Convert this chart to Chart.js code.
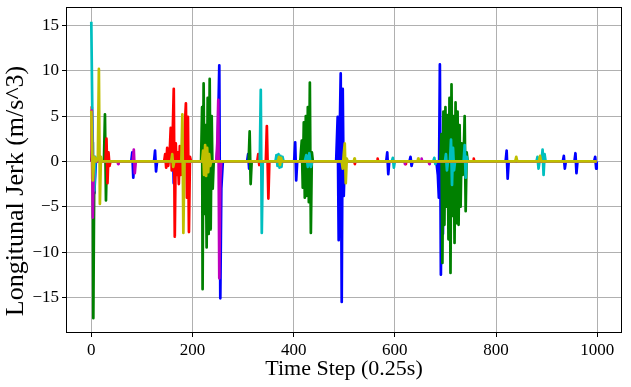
<!DOCTYPE html>
<html>
<head>
<meta charset="utf-8">
<script src="https://cdn.jsdelivr.net/npm/chart.js@4"></script>
<style>
  html, body { margin: 0; padding: 0; background: #fff; }
  #wrap { width: 631px; height: 387px; }
</style>
</head>
<body>
<div id="wrap"><canvas id="jerk" width="631" height="387"></canvas></div>
<script>
// Jerk spikes per run (x = time step, y = m/s^3)
const blueX = [0, 3, 6, 9, 79, 81, 83, 85, 124, 126, 128, 130, 158, 161, 163, 165, 167, 248, 250, 253, 255, 257, 260, 308, 310, 312, 314, 401, 403, 405, 407, 484, 487, 489, 491, 493, 495, 497, 499, 501, 583, 585, 587, 589, 629, 631, 633, 635, 682, 685, 687, 689, 691, 693, 695, 697, 699, 703, 706, 709, 819, 821, 823, 825, 932, 934, 936, 938, 955, 957, 959, 961, 994, 996, 998, 999];
const blueY = [0, 0.5, -3.5, 0, 0, 1.0, -1.8, 0, 0, 1.2, -1.1, 0, 0, 2.8, -2.4, 1.0, 0, 0, 2.0, 10.6, -15.1, -3.0, 0, 0, 0.8, -0.8, 0, 0, 2.1, -2.1, 0, 0, 4.9, -8.7, 3.0, 9.7, -15.5, 8.0, -3.8, 0, 0, 1.0, -1.4, 0, 0, 0.5, -0.5, 0, 0, -1.5, -4.0, 10.7, -12.5, 2.0, -8.0, 1.8, -2.0, 1.0, -1.0, 0, 0, 1.2, -1.9, 0, 0, 0.6, -0.8, 0, 0, 0.9, -1.3, 0, 0, 0.5, -0.8, 0];

const greenX = [0, 1, 3, 4, 6, 25, 27, 29, 31, 33, 217, 219, 220, 222, 224, 226, 228, 230, 232, 234, 236, 238, 240, 242, 311, 313, 315, 317, 413, 416, 418, 420, 422, 424, 426, 428, 430, 432, 434, 436, 438, 690, 692, 694, 696, 698, 700, 702, 704, 706, 708, 710, 712, 714, 716, 718, 720, 722, 724, 726, 728, 730, 732, 734, 736, 738, 740, 742, 744, 999];
const greenY = [0, 0, 2.1, -17.3, 0, 0, 5.2, -4.3, 1.0, 0, 0, 6.0, -14.1, 8.6, -5.8, 4.0, -9.5, 7.0, -8.0, 9.1, -7.5, 5.0, -3.0, 0, 0, 3.3, -2.5, 0, 0, 2.3, -2.9, 4.3, -4.0, 5.0, -3.8, 6.0, -4.5, 8.7, -7.9, 1.0, 0, 0, 3.0, -11.2, 5.5, -7.0, 6.0, -5.0, 5.1, -8.6, 7.0, -12.3, 8.5, -6.0, 5.0, -9.0, 6.5, -6.8, 5.5, -7.0, 4.0, -5.0, 2.0, -1.5, 0.5, 5.0, -5.5, 1.0, 0, 0];

const redX = [0, 1, 2, 4, 28, 30, 32, 34, 36, 38, 144, 146, 148, 150, 152, 155, 157, 159, 161, 163, 165, 167, 169, 171, 173, 175, 177, 179, 183, 185, 187, 189, 191, 193, 195, 197, 328, 330, 332, 334, 345, 347, 350, 352, 520, 521, 522, 565, 566, 567, 620, 621, 622, 755, 756, 757, 999];
const redY = [0, 6.0, -2.0, 0, 0, 2.5, -2.4, 1.0, -0.5, 0, 0, 0.8, -0.7, 1.5, -0.5, 1.0, 3.7, -1.0, 3.2, 8.0, -8.3, 2.0, -1.5, 1.0, -2.5, 1.7, -1.5, 0.5, 0, 4.0, 6.4, -4.0, 4.9, -7.8, 0.5, 0, 0, 0.8, -0.4, 0, 0, 3.9, -4.1, 0, 0, -0.3, 0, 0, 0.3, 0, 0, -0.3, 0, 0, 0.3, 0, 0];

const cyanX = [0, 2, 4, 6, 8, 10, 333, 335, 337, 339, 364, 366, 368, 370, 372, 374, 376, 378, 380, 422, 425, 428, 431, 434, 437, 594, 596, 598, 600, 676, 678, 680, 682, 699, 701, 703, 705, 709, 711, 713, 715, 717, 719, 736, 738, 740, 742, 744, 880, 882, 884, 886, 890, 892, 894, 896, 898, 999];
const cyanY = [15.4, 5.5, -2.1, -3.2, 0.5, 0, 0, 7.9, -7.9, 0, 0, 0.7, -0.5, 0.8, -0.7, 0.6, -0.6, 0.5, 0, 0, 0.7, -0.6, 0.9, -0.6, 0, 0, 0.4, -0.7, 0, 0, 0.4, -0.3, 0, 0, 0.8, -1.0, 0, 0, 2.4, -2.6, 1.5, -1.0, 0, 0, 1.8, -1.8, 0.5, 0, 0, 0.5, -0.8, 0, 0, 1.3, -1.5, 0.8, 0, 0];

const magentaX = [0, 1, 3, 5, 7, 52, 53, 54, 82, 84, 86, 88, 247, 249, 251, 253, 255, 257, 619, 620, 621, 652, 653, 654, 667, 668, 669, 999];
const magentaY = [0, 5.6, -6.2, 0.5, 0, 0, -0.3, 0, 0, 1.3, -1.3, 0, 0, 2.0, 6.8, -12.9, -2.0, 0, 0, -0.3, 0, 0, 0.3, 0, 0, -0.3, 0, 0];

const yellowX = [0, 3, 6, 10, 13, 15, 17, 19, 21, 158, 160, 162, 164, 178, 180, 182, 184, 219, 221, 223, 225, 227, 229, 231, 233, 235, 237, 369, 371, 373, 375, 377, 495, 497, 499, 501, 503, 505, 507, 519, 520, 521, 645, 646, 647, 838, 840, 842, 885, 887, 889, 999];
const yellowY = [5.6, -2.1, 0.5, 0, 0.5, 10.2, -4.7, 0.5, 0, 0, 0.8, -0.6, 0, 0, 5.2, -7.9, 0, 0, 1.2, -1.5, 1.8, -1.6, 1.5, -1.2, 0.8, -0.5, 0, 0, 0.5, -0.4, 0.4, 0, 0, -0.8, 0.8, 2.0, -2.4, 0.3, 0, 0, 0.3, 0, 0, 0.3, 0, 0, 0.5, 0, 0, 0.6, 0, 0];

const xTicks = [0, 200, 400, 600, 800, 1000];
const yTicks = [-15, -10, -5, 0, 5, 10, 15];

const runs = [
  { xs: blueX, ys: blueY, color: "#0000ff", order: 5 },
  { xs: greenX, ys: greenY, color: "#008000", order: 4 },
  { xs: redX, ys: redY, color: "#ff0000", order: 3 },
  { xs: cyanX, ys: cyanY, color: "#00bfbf", order: 2 },
  { xs: magentaX, ys: magentaY, color: "#bf00bf", order: 1 },
  { xs: yellowX, ys: yellowY, color: "#bfbf00", order: 0 },
];

const serif = "'Liberation Serif', 'Times New Roman', serif";
const yTitle = "Longitunal Jerk (m/s^3)";

// frame round the plot area (like the matplotlib spines) + the y label,
// which in the picture sits a bit below the middle of the axis
const frameBox = {
  id: "frameBox",
  afterDatasetsDraw(chart) {
    const a = chart.chartArea;
    const ctx = chart.ctx;
    ctx.save();
    ctx.strokeStyle = "#000";
    ctx.lineWidth = 1;
    ctx.strokeRect(a.left + 0.5, a.top + 0.5, a.right - a.left - 1, a.bottom - a.top - 1);
    ctx.restore();
  },
  afterDraw(chart) {
    const ctx = chart.ctx;
    ctx.save();
    ctx.translate(16.6, 191);
    ctx.rotate(-Math.PI / 2);
    ctx.font = "26px " + serif;
    ctx.fillStyle = "#000";
    ctx.textAlign = "center";
    ctx.textBaseline = "middle";
    ctx.fillText(yTitle, 0, 0);
    ctx.restore();
  },
};

new Chart(document.getElementById("jerk").getContext("2d"), {
  type: "line",
  data: {
    datasets: runs.map((r) => ({
      data: r.xs.map((x, i) => ({ x: x, y: r.ys[i] })),
      borderColor: r.color,
      backgroundColor: r.color,
      borderWidth: 2.7,
      borderJoinStyle: "round",
      pointRadius: 0,
      tension: 0,
      fill: false,
      order: r.order,
    })),
  },
  options: {
    responsive: false,
    animation: false,
    devicePixelRatio: 1,
    layout: { padding: { top: 7, right: 9, left: 0, bottom: 0 } },
    plugins: { legend: { display: false }, tooltip: { enabled: false } },
    scales: {
      x: {
        type: "linear",
        min: -50,
        max: 1049,
        afterBuildTicks: (s) => { s.ticks = xTicks.map((v) => ({ value: v })); },
        afterFit: (s) => { s.height = 54; s.paddingLeft = 0; s.paddingRight = 0; },
        ticks: { color: "#000", font: { family: serif, size: 17 }, padding: 3, maxRotation: 0, callback: (v) => String(v) },
        grid: { color: "#b0b0b0", lineWidth: 1, tickColor: "#000", tickLength: 4 },
        border: { display: false },
        title: { display: true, text: "Time Step (0.25s)", color: "#000", font: { family: serif, size: 22 }, padding: { top: 0, bottom: 5 } },
      },
      y: {
        min: -18.93,
        max: 17.03,
        afterBuildTicks: (s) => { s.ticks = yTicks.map((v) => ({ value: v })); },
        afterFit: (s) => { s.width = 66; s.paddingTop = 0; s.paddingBottom = 0; },
        ticks: { color: "#000", font: { family: serif, size: 17 }, padding: 3, callback: (v) => (v < 0 ? "\u2212" + Math.abs(v) : String(v)) },
        grid: { color: "#b0b0b0", lineWidth: 1, tickColor: "#000", tickLength: 4 },
        border: { display: false },
        title: { display: false },
      },
    },
  },
  plugins: [frameBox],
});
</script>
</body>
</html>
